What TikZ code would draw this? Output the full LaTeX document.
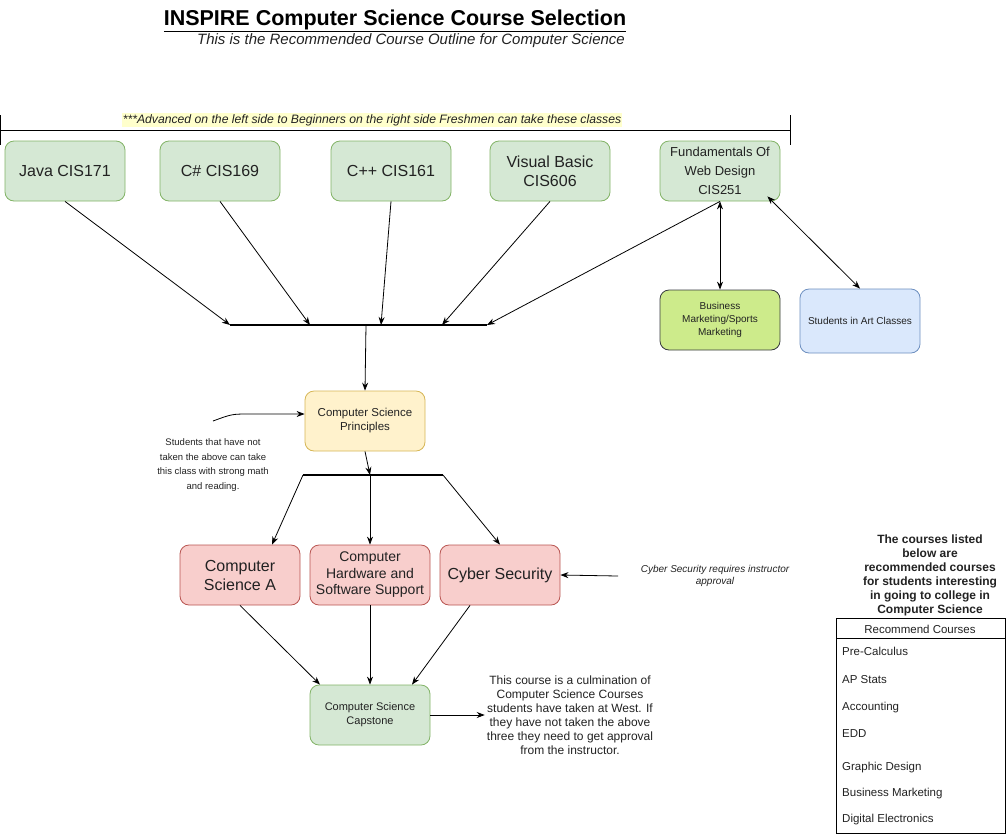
\documentclass[tikz,border=0pt]{standalone}
\usepackage{fontspec}
\setmainfont{Liberation Sans}
\usepackage{tikz}
\usetikzlibrary{arrows.meta}

\definecolor{greenfill}{HTML}{D5E8D4}
\definecolor{greenline}{HTML}{82B366}
\definecolor{redfill}{HTML}{F8CECC}
\definecolor{redline}{HTML}{B85450}
\definecolor{yellowfill}{HTML}{FFF2CC}
\definecolor{yellowline}{HTML}{D6B656}
\definecolor{bluefill}{HTML}{DAE8FC}
\definecolor{blueline}{HTML}{6C8EBF}
\definecolor{limefill}{HTML}{CDEB8B}
\definecolor{limeline}{HTML}{36393D}
\definecolor{markfill}{HTML}{FFFFCC}
\definecolor{boxtext}{HTML}{222222}

\begin{document}
\begin{tikzpicture}[
        x=1pt, y=-1pt,
        box/.style={rectangle, draw, rounded corners=9pt, minimum width=120pt, minimum height=60pt, align=center, text=boxtext, line width=0.8pt},
        course/.style={box, draw=greenline, fill=greenfill, font=\fontsize{16}{19}\selectfont},
        core/.style={box, draw=redline, fill=redfill, font=\fontsize{16}{19}\selectfont},
        note/.style={align=center, text=boxtext, inner sep=2pt},
        item/.style={anchor=west, inner sep=0pt, text=boxtext, font=\fontsize{11.5}{14}\selectfont},
        arrow/.style={-{Stealth[length=8pt, width=6pt]}, line width=0.8pt},
        twoway/.style={{Stealth[length=8pt, width=6pt]}-{Stealth[length=8pt, width=6pt]}, line width=0.8pt},
        joint/.style={line width=1.5pt}
    ]
    \useasboundingbox (0,0) rectangle (1006,836);

    % Title
    \node[font=\bfseries\fontsize{21.5}{25}\selectfont] (title) at (395,21) {\underline{INSPIRE Computer Science Course Selection}};
    \node[font=\itshape\fontsize{15}{17}\selectfont, text=boxtext] (subtitle) at (411,41) {This is the Recommended Course Outline for Computer Science};

    % Bracket over the first classes
    \draw[line width=1pt] (0,115) -- (0,145);
    \draw[line width=1pt] (790,115) -- (790,145);
    \draw[line width=1pt] (0,130) -- (790,130);
    \node[fill=markfill, inner sep=1pt, text=boxtext, font=\itshape\fontsize{12.2}{14}\selectfont] (order) at (372,120) {***Advanced on the left side to Beginners on the right side Freshmen can take these classes};

    % Nodes
    \node[course] (java) at (65,171) {Java CIS171};
    \node[course] (csharp) at (220,171) {C\# CIS169};
    \node[course] (cpp) at (391,171) {C++ CIS161};
    \node[course] (vb) at (550,171) {Visual Basic\\CIS606};
    \node[course, font=\fontsize{13}{19}\selectfont] (web) at (720,171) {Fundamentals Of\\Web Design\\CIS251};

    \node[box, draw=limeline, fill=limefill, font=\fontsize{10}{13}\selectfont] (business) at (720,320) {Business\\Marketing/Sports\\Marketing};
    \node[box, draw=blueline, fill=bluefill, minimum height=64pt, font=\fontsize{10}{13}\selectfont] (art) at (860,321) {Students in Art Classes};

    \node[box, draw=yellowline, fill=yellowfill, font=\fontsize{11.5}{14}\selectfont] (principles) at (365,421) {Computer Science\\Principles};
    \node[note, font=\fontsize{9.5}{14.5}\selectfont] (newcomers) at (213,465) {Students that have not\\taken the above can take\\this class with strong math\\and reading.};

    \node[core] (csa) at (240,575) {Computer\\Science A};
    \node[core, font=\fontsize{14}{16.5}\selectfont] (hardware) at (370,575) {Computer\\Hardware and\\Software Support};
    \node[core] (cyber) at (500,575) {Cyber Security};
    \node[note, font=\itshape\fontsize{10}{12}\selectfont] (approval) at (715,576) {Cyber Security requires instructor\\approval};

    \node[box, draw=greenline, fill=greenfill, font=\fontsize{11}{14}\selectfont] (capstone) at (370,715) {Computer Science\\Capstone};
    \node[note, font=\fontsize{12}{14}\selectfont] (culmination) at (570,715) {This course is a culmination of\\Computer Science Courses\\students have taken at West. If\\they have not taken the above\\three they need to get approval\\from the instructor.};

    % Recommended list
    \node[note, font=\bfseries\fontsize{12}{14}\selectfont] (advice) at (930,575) {The courses listed\\below are\\recommended courses\\for students interesting\\in going to college in\\Computer Science};
    \node[draw, line width=1pt, anchor=north west, minimum width=169pt, minimum height=215pt, inner sep=0pt] (list) at (836,618) {};
    \draw[line width=1pt] ([yshift=-20pt]list.north west) -- ([yshift=-20pt]list.north east);
    \node[inner sep=0pt, text=boxtext, font=\fontsize{11.5}{14}\selectfont] (listhead) at (920,629) {Recommend Courses};
    \foreach \y/\course [count=\i] in {651/Pre-Calculus, 680/AP Stats, 708/Accounting, 734/EDD, 768/Graphic Design, 794/Business Marketing, 820/Digital Electronics}
        \node[item] (course\i) at (842,\y) {\course};

    % Joints
    \coordinate (topleft) at (230,325);
    \coordinate (topright) at (487,325);
    \coordinate (topmid) at (366,325);
    \coordinate (lowleft) at (303,475);
    \coordinate (lowright) at (443,475);
    \coordinate (lowmid) at (370,475);
    \coordinate (newcomerstart) at (213,421);
    \coordinate (approvalstart) at (618,576);
    \draw[joint] (topleft) -- (topright);
    \draw[joint] (lowleft) -- (lowright);

    % Arrows
    \draw[arrow] (java.south) -- (topleft);
    \draw[arrow] (csharp.south) -- (310,325);
    \draw[arrow] (cpp.south) -- (381,325);
    \draw[arrow] (vb.south) -- (442,325);
    \draw[arrow] (web.south) -- (topright);
    \draw[twoway] (web.south) -- (business.north);
    \draw[twoway] ([xshift=-13pt, yshift=5pt]web.south east) -- (art.north);
    \draw[arrow] (topmid) -- (principles.north);
    \draw[arrow] (newcomerstart) .. controls (232,414) .. (250,414) -- ([yshift=7pt]principles.west);
    \draw[arrow] (principles.south) -- (lowmid);
    \draw[arrow] (lowleft) -- ([xshift=32pt]csa.north);
    \draw[arrow] (lowmid) -- (hardware.north);
    \draw[arrow] (lowright) -- (cyber.north);
    \draw[arrow] (approvalstart) -- (cyber.east);
    \draw[arrow] (csa.south) -- ([xshift=-50pt]capstone.north);
    \draw[arrow] (hardware.south) -- (capstone.north);
    \draw[arrow] ([xshift=-30pt]cyber.south) -- ([xshift=42pt]capstone.north);
    \draw[arrow] (capstone.east) -- (culmination.west);

\end{tikzpicture}
\end{document}
